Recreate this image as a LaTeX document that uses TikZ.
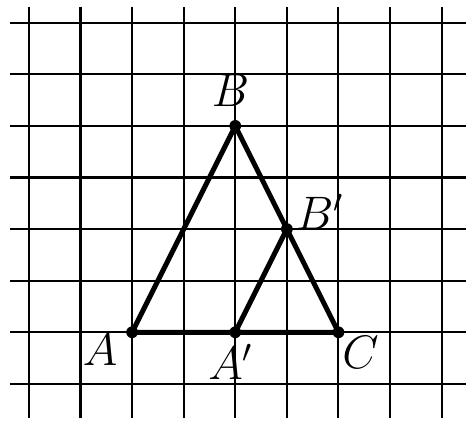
\documentclass[tikz,border=0pt]{standalone}
\begin{document}
\begin{tikzpicture}[x=.8cm, y=.8cm, every node/.style={font=\huge, inner sep=0pt}]
  \useasboundingbox (-0.56,-0.71) rectangle (8.53,7.44);
  % grid
  \foreach \i in {0,...,8} \draw[line width=.9pt] (\i,-0.66) -- (\i,7.3);
  \foreach \j in {0,...,7} \draw[line width=.9pt] (-0.37,\j) -- (8.47,\j);
  \coordinate (A) at (2,1); \coordinate (A1) at (4,1);
  \coordinate (C) at (6,1); \coordinate (B) at (4,5);
  \coordinate (B1) at (5,3);
  \draw[line width=2.2pt, line join=round] (A)--(B)--(C)--cycle;
  \draw[line width=2.2pt] (A1)--(B1);
  \foreach \p in {A,A1,C,B,B1} \fill (\p) circle (2.6pt);
  \node (lB) at (3.91,5.68) {$B$};
  \node (lB1) at (5.64,3.33) {$B'$};
  \node (lA) at (1.38,0.67) {$A$};
  \node (lA1) at (3.91,0.42) {$A'$};
  \node (lC) at (6.43,0.6) {$C$};
\end{tikzpicture}
\end{document}
